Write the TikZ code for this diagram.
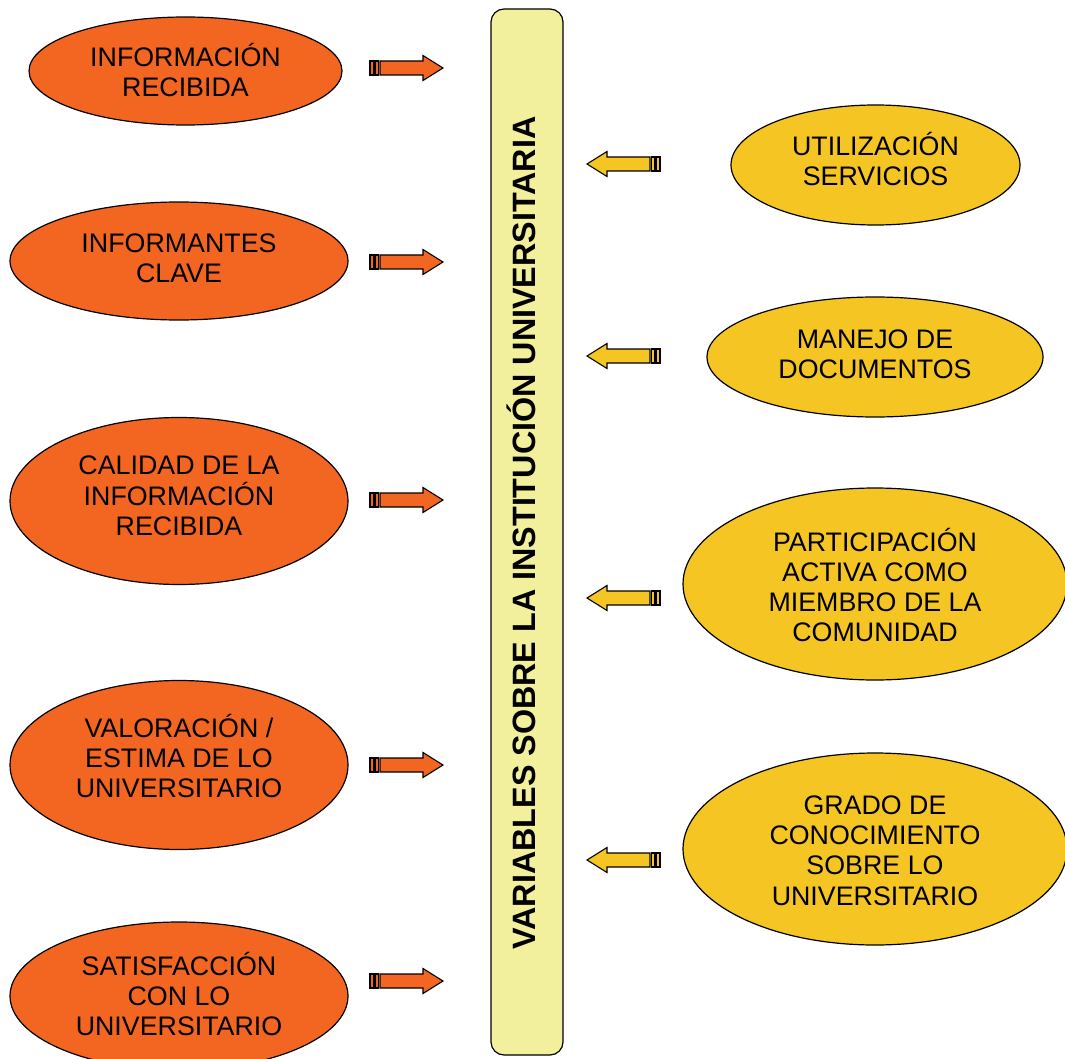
\documentclass[tikz,border=0pt]{standalone}
\usepackage{fontspec}
\setmainfont{Liberation Sans}
\usetikzlibrary{shapes.geometric}

\definecolor{orangefill}{RGB}{243,102,34}
\definecolor{goldfill}{RGB}{245,198,35}
\definecolor{barfill}{RGB}{243,240,157}

\begin{document}
\begin{tikzpicture}[x=1pt,y=-1pt,
  bubble/.style={ellipse, draw=black, line width=1.2pt, inner sep=0pt},
  leftbubble/.style={bubble, fill=orangefill},
  rightbubble/.style={bubble, fill=goldfill},
  bubbletext/.style={align=center, inner sep=0pt, font=\fontsize{26.8}{30.3}\selectfont},
  arrowpart/.style={draw=black, line width=1.1pt, line join=miter},
  stripedarrow/.pic={
    \path[arrowpart, fill=#1] (0,-7) rectangle (3.5,7);
    \path[arrowpart, fill=#1] (5,-7) rectangle (8.5,7);
    \path[arrowpart, fill=#1] (10,-7) -- (53,-7) -- (53,-12.5) -- (73,0)
      -- (53,12.5) -- (53,7) -- (10,7) -- cycle;
  }
]
\useasboundingbox (0,0) rectangle (1065,1059);

% central bar with its rotated title
\node[draw=black, line width=1.2pt, fill=barfill, rounded corners=13pt,
      minimum width=72pt, minimum height=1046pt, inner sep=0pt] (bar) at (527,532) {};
\node[rotate=90, anchor=base, font=\bfseries\fontsize{32.3}{36}\selectfont]
      (title) at (535.5,533) {VARIABLES SOBRE LA INSTITUCIÓN UNIVERSITARIA};

% left column
\node[leftbubble, minimum width=313pt, minimum height=108pt] (l1) at (185.5,71) {};
\node[bubbletext] (l1t) at (185.5,70) {INFORMACIÓN\\RECIBIDA};
\node[leftbubble, minimum width=338pt, minimum height=118pt] (l2) at (179,261) {};
\node[bubbletext] (l2t) at (179,258) {INFORMANTES\\CLAVE};
\node[leftbubble, minimum width=338pt, minimum height=167pt] (l3) at (179,501) {};
\node[bubbletext] (l3t) at (179,496) {CALIDAD DE LA\\INFORMACIÓN\\RECIBIDA};
\node[leftbubble, minimum width=338pt, minimum height=169pt] (l4) at (179,765) {};
\node[bubbletext] (l4t) at (179,756) {VALORACIÓN /\\ESTIMA DE LO\\UNIVERSITARIO};
\node[leftbubble, minimum width=338pt, minimum height=148pt] (l5) at (179,996) {};
\node[bubbletext] (l5t) at (179,994) {SATISFACCIÓN\\CON LO\\UNIVERSITARIO};

% right column
\node[rightbubble, minimum width=289pt, minimum height=120pt] (r1) at (875.5,165) {};
\node[bubbletext] (r1t) at (875.5,159) {UTILIZACIÓN\\SERVICIOS};
\node[rightbubble, minimum width=336pt, minimum height=120pt] (r2) at (875,357) {};
\node[bubbletext] (r2t) at (875,354) {MANEJO DE\\DOCUMENTOS};
\node[rightbubble, minimum width=384pt, minimum height=192pt] (r3) at (875,584) {};
\node[bubbletext] (r3t) at (875,585) {PARTICIPACIÓN\\ACTIVA COMO\\MIEMBRO DE LA\\COMUNIDAD};
\node[rightbubble, minimum width=384pt, minimum height=192pt] (r4) at (875,849) {};
\node[bubbletext] (r4t) at (875,850.5) {GRADO DE\\CONOCIMIENTO\\SOBRE LO\\UNIVERSITARIO};

% arrows towards the bar
\pic at (370,68)  {stripedarrow=orangefill};
\pic at (370,262) {stripedarrow=orangefill};
\pic at (370,500) {stripedarrow=orangefill};
\pic at (370,765) {stripedarrow=orangefill};
\pic at (370,981) {stripedarrow=orangefill};

\pic[xscale=-1] at (660,164) {stripedarrow=goldfill};
\pic[xscale=-1] at (660,356) {stripedarrow=goldfill};
\pic[xscale=-1] at (660,598) {stripedarrow=goldfill};
\pic[xscale=-1] at (660,860) {stripedarrow=goldfill};
\end{tikzpicture}
\end{document}
